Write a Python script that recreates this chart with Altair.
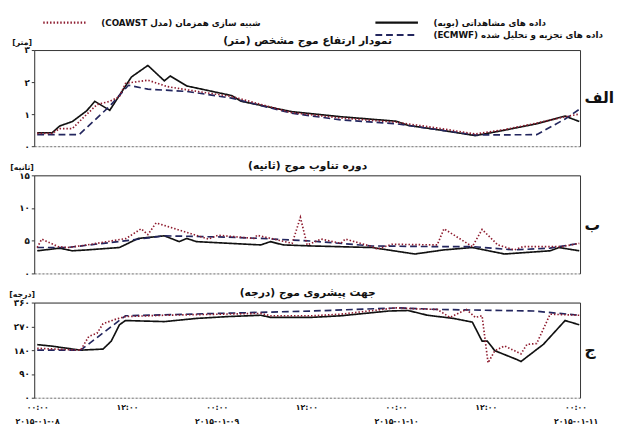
import altair as alt
import pandas as pd

RLE, PDF = "\u202b", "\u202c"


def rtl(s):
    return RLE + s + PDF


# ---------------- data ----------------
# legend order: COAWST (row 1, col 1), observed (row 1, col 2), empty slot, ECMWF (row 2, col 2)
SERIES = ["coawst", "obs", "blank", "ecmwf"]
SERIES_LABELS = ["شبیه سازی همزمان (مدل COAWST)", "داده های مشاهداتی (بویه)", "", "داده های تجزیه و تحلیل شده (ECMWF)"]
COLORS = ["#8e1b2e", "#111111", "rgba(0,0,0,0)", "#23265e"]
DASHES = [[1.5, 2], [1, 0], [1, 0], [7, 4]]

PANEL_TITLES = ["نمودار ارتفاع موج مشخص (متر)", "دوره تناوب موج (ثانیه)", "جهت پیشروی موج (درجه)"]
PANEL_UNITS = ["[متر]", "[ثانیه]", "[درجه]"]
PANEL_TAGS = ["الف", "ب", "ج"]

Y1_TICKS = [0, 1, 2, 3]
Y1_LABELS = ["۰", "۱", "۲", "۳"]
Y2_TICKS = [0, 5, 10, 15]
Y2_LABELS = ["۰", "۵", "۱۰", "۱۵"]
Y3_TICKS = [0, 90, 180, 270, 360]
Y3_LABELS = ["۰", "۹۰", "۱۸۰", "۲۷۰", "۳۶۰"]

X_TICKS = [0, 12, 24, 36, 48, 60, 72]
TIME_LABELS = ["۰۰:۰۰", "۱۲:۰۰", "۰۰:۰۰", "۱۲:۰۰", "۰۰:۰۰", "۱۲:۰۰", "۰۰:۰۰"]
DATE_TICKS = [0, 24, 48, 72]
DATE_LABELS = ["۲۰۱۵-۰۱-۰۸", "۲۰۱۵-۰۱-۰۹", "۲۰۱۵-۰۱-۱۰", "۲۰۱۵-۰۱-۱۱"]

# significant wave height (m); hours since 2015-01-08 00:00
OBS_HS_T = [0, 2, 3, 4.7, 6.6, 7.7, 9.7, 12.6, 14.8, 17, 17.8, 20, 26, 27.3, 34, 40.6, 48, 49.6, 54, 58.6, 62.5, 66.8, 70.6, 72.5]
OBS_HS_V = [0.42, 0.42, 0.63, 0.77, 1.10, 1.40, 1.12, 2.16, 2.52, 2.04, 2.19, 1.88, 1.58, 1.40, 1.08, 0.92, 0.78, 0.65, 0.50, 0.33, 0.50, 0.70, 0.94, 0.77]
COA_HS_T = [0, 2, 3, 4.7, 6.2, 8, 9.7, 11, 11.8, 14.8, 17.4, 20, 26, 34, 40.6, 48, 54, 58.6, 62.5, 66.8, 70.6, 72.5]
COA_HS_V = [0.40, 0.40, 0.55, 0.55, 0.90, 1.30, 1.40, 1.55, 1.96, 2.06, 1.86, 1.76, 1.55, 1.05, 0.88, 0.75, 0.55, 0.38, 0.52, 0.72, 0.92, 1.00]
ECM_HS_T = [0, 5.6, 9.7, 12.2, 14.8, 20, 26, 34, 40.6, 48, 54, 58.6, 66.8, 70.6, 72.5]
ECM_HS_V = [0.36, 0.36, 1.25, 1.90, 1.78, 1.71, 1.50, 1.03, 0.82, 0.70, 0.50, 0.35, 0.36, 0.85, 1.15]

# wave period (s)
OBS_TP_T = [0, 3, 4.7, 6.7, 11, 13.5, 17, 19, 20, 21.3, 29.9, 31.2, 32.9, 36.7, 44.8, 50.5, 54.4, 58.2, 62.5, 68.6, 69.8, 72.5]
OBS_TP_V = [3.46, 3.86, 3.46, 3.6, 3.96, 5.35, 5.75, 4.86, 5.35, 4.86, 4.36, 4.86, 4.36, 4.2, 3.96, 2.97, 3.6, 3.96, 2.97, 3.46, 3.96, 3.46]
COA_TP_T = [0, 0.6, 2.8, 4.1, 6.7, 11.9, 13.9, 14.8, 15.9, 22.9, 24.2, 29, 29.4, 34.1, 35.2, 36.1, 38, 40.6, 41.2, 44.8, 45.5, 47.4, 53.5, 54.4, 58.2, 59.5, 61.6, 63.8, 65, 70.2, 72.5]
COA_TP_V = [3.96, 5.25, 4.1, 3.96, 4.36, 5.35, 6.83, 5.94, 7.73, 5.25, 5.84, 5.35, 5.84, 4.6, 8.57, 4.36, 5.25, 4.6, 5.25, 4.1, 3.7, 4.46, 4.36, 6.83, 4.1, 6.73, 4.36, 3.6, 4.1, 4.1, 4.6]
ECM_TP_T = [0, 4, 12.6, 17, 25.5, 29.9, 36.7, 44.8, 53.5, 58.2, 63.8, 68.6, 72.5]
ECM_TP_V = [3.96, 3.96, 5.1, 5.75, 5.55, 5.35, 4.95, 4.2, 4.1, 4.1, 3.6, 3.86, 4.6]

# wave direction (deg)
OBS_DIR_T = [0, 2, 5.8, 8.8, 9.9, 11, 11.8, 17, 21.3, 25.5, 29.9, 31.2, 36.7, 40.6, 47, 49.6, 52.2, 55.7, 58.2, 59.5, 60.2, 61.2, 64.2, 64.7, 67.7, 70.6, 72.5]
OBS_DIR_V = [201, 195, 180, 184, 214, 276, 292, 288, 300, 307, 312, 304, 304, 310, 328, 330, 312, 300, 286, 214, 214, 178, 144, 137, 202, 292, 276]
COA_DIR_T = [0, 5.8, 6.9, 8, 8.8, 10.6, 11.8, 17, 29.9, 31.2, 36.7, 40.6, 48, 50.8, 53.5, 55.2, 57.4, 58.6, 59.5, 60.3, 61.2, 62.5, 64.7, 65.5, 66.8, 68.6, 72.5]
COA_DIR_V = [187, 180, 232, 244, 280, 298, 307, 312, 319, 310, 310, 316, 340, 336, 334, 304, 334, 304, 310, 132, 178, 196, 166, 202, 205, 316, 312]
ECM_DIR_T = [0, 5.8, 11.8, 36.7, 48.3, 53.5, 66.4, 72.5]
ECM_DIR_V = [180, 180, 310, 328, 340, 334, 328, 312]

X_DOMAIN = [-0.4, 72.6]
FONT = "DejaVu Sans"


def frame(series):
    rows = []
    for key, ts, vs in series:
        for t, v in zip(ts, vs):
            rows.append({"h": t, "v": v, "s": key})
    return pd.DataFrame(rows)


def lookup_expr(keys, labels, quote=False):
    parts = []
    for k, l in zip(keys, labels):
        kk = "'%s'" % k if quote else str(k)
        parts.append("datum.value == %s ? '%s' : " % (kk, l))
    return "".join(parts) + "''"


series_label_expr = lookup_expr(SERIES, [rtl(s) if s else "" for s in SERIES_LABELS], quote=True)

top_legend = alt.Legend(
    orient="top", columns=2, title=None, offset=-6, padding=0,
    symbolType="M0.3,0H7.6", symbolStrokeWidth=2.2, symbolSize=144,
    labelExpr=series_label_expr, labelFont=FONT, labelFontSize=9, labelFontWeight="bold",
    labelColor="#111", labelOffset=54, labelLimit=400, columnPadding=108, rowPadding=0,
)


def panel(df, ydomain, yticks, ylabels, title, unit, tag, top, bottom, height):
    xs = alt.Scale(domain=X_DOMAIN, nice=False, zero=False)
    ys = alt.Scale(domain=ydomain, nice=False, zero=False)
    xaxis_kw = dict(values=X_TICKS, grid=False, ticks=False, title=None, domainDash=[2, 2],
                    domainColor="#777", domainWidth=1)
    if bottom:
        xaxis_kw.update(labelExpr=lookup_expr(X_TICKS, TIME_LABELS), labelFont=FONT,
                        labelFontSize=8, labelFontWeight="bold", labelColor="#111",
                        labelPadding=6)
    else:
        xaxis_kw.update(labels=False)
    lines = alt.Chart(df).mark_line(strokeWidth=1.7).encode(
        x=alt.X("h:Q", scale=xs, axis=alt.Axis(**xaxis_kw)),
        y=alt.Y("v:Q", scale=ys, axis=alt.Axis(
            values=yticks, labelExpr=lookup_expr(yticks, ylabels), grid=False,
            domainColor="#333", tickColor="#333", tickSize=3, labelFont=FONT,
            labelFontSize=9, labelFontWeight="bold", labelColor="#111", labelPadding=2,
            title=rtl(unit), titleAngle=0, titleX=-13, titleY=-4, titleAlign="center",
            titleBaseline="bottom", titleFont=FONT, titleFontSize=8, titleFontWeight="bold",
            titleColor="#111")),
        color=alt.Color("s:N", scale=alt.Scale(domain=SERIES, range=COLORS),
                        legend=top_legend if top else None),
        strokeDash=alt.StrokeDash("s:N", scale=alt.Scale(domain=SERIES, range=DASHES),
                                  legend=top_legend if top else None),
    )
    box = alt.Chart(df).mark_line(opacity=0).encode(
        x=alt.X("h:Q", scale=xs, axis=alt.Axis(
            orient="top", labels=False, ticks=False, grid=False, domainColor="#333",
            title=rtl(title), titleFont=FONT, titleFontSize=11, titleFontWeight="bold",
            titleColor="#111", titlePadding=5)),
        y=alt.Y("v:Q", scale=ys, axis=alt.Axis(
            orient="right", labels=False, ticks=False, grid=False, domainColor="#333",
            title=tag, titleAngle=0, titleAlign="left", titleBaseline="middle",
            titleFont=FONT, titleFontSize=16, titleFontWeight="bold", titleColor="#111",
            titlePadding=4)),
    )
    layers = [lines, box]
    if bottom:
        dates = alt.Chart(df).mark_line(opacity=0).encode(
            x=alt.X("h:Q", scale=xs, axis=alt.Axis(
                orient="bottom", values=DATE_TICKS, labelExpr=lookup_expr(DATE_TICKS, DATE_LABELS),
                domain=False, ticks=False, grid=False, title=None, labelFont=FONT,
                labelFontSize=8, labelFontWeight="bold", labelColor="#111",
                labelPadding=21, labelFlush=True, labelFlushOffset=9)),
            y=alt.Y("v:Q", scale=ys, axis=None),
        )
        layers.append(dates)
    return alt.layer(*layers).resolve_scale(x="independent", y="independent").properties(
        width=562, height=height,
    )


p1 = panel(frame([("obs", OBS_HS_T, OBS_HS_V), ("ecmwf", ECM_HS_T, ECM_HS_V), ("coawst", COA_HS_T, COA_HS_V)]),
           [0, 3], Y1_TICKS, Y1_LABELS, PANEL_TITLES[0], PANEL_UNITS[0], PANEL_TAGS[0], True, False, 99)
p2 = panel(frame([("obs", OBS_TP_T, OBS_TP_V), ("ecmwf", ECM_TP_T, ECM_TP_V), ("coawst", COA_TP_T, COA_TP_V)]),
           [0, 15], Y2_TICKS, Y2_LABELS, PANEL_TITLES[1], PANEL_UNITS[1], PANEL_TAGS[1], False, False, 101)
p3 = panel(frame([("obs", OBS_DIR_T, OBS_DIR_V), ("ecmwf", ECM_DIR_T, ECM_DIR_V), ("coawst", COA_DIR_T, COA_DIR_V)]),
           [0, 360], Y3_TICKS, Y3_LABELS, PANEL_TITLES[2], PANEL_UNITS[2], PANEL_TAGS[2], False, True, 98)

chart = alt.vconcat(p1, p2, p3, spacing=7).resolve_legend(
    color="independent", strokeDash="independent"
).properties(
    padding={"left": 0, "top": 0, "right": 0, "bottom": 0}
).configure_view(stroke=None).configure(font=FONT, background="white")

chart.save("out.html", embed_options={"renderer": "svg", "actions": False})
